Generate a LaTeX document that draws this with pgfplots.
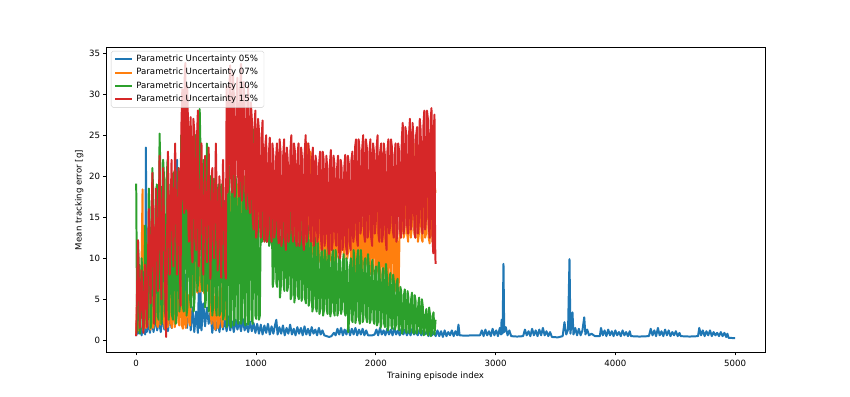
\documentclass[border=0pt]{standalone}
\usepackage{fontspec}
\setmainfont{DejaVu Sans}
\usepackage{pgfplots}
\pgfplotsset{compat=1.18}
\definecolor{tabblue}{HTML}{1F77B4}
\definecolor{taborange}{HTML}{FF7F0E}
\definecolor{tabgreen}{HTML}{2CA02C}
\definecolor{tabred}{HTML}{D62728}
\begin{document}
\begin{tikzpicture}
\path[use as bounding box] (-123.25pt,-50.53pt) rectangle (862.75pt,408.87pt);
\begin{axis}[
  at={(0,0)}, anchor=south west,
  scale only axis, width=764.15pt, height=353.74pt,
  xmin=-250, xmax=5249, ymin=-1.49, ymax=35.69,
  xtick={0,1000,2000,3000,4000,5000},
  ytick={0,5,10,15,20,25,30,35},
  tick align=outside, tick pos=left,
  major tick length=3.5pt,
  tick style={black, line width=0.8pt},
  axis line style={black, line width=0.8pt},
  /pgf/number format/assume math mode=true,
  /pgf/number format/1000 sep={},
  ticklabel style={font=\fontsize{10}{12}\selectfont},
  xticklabel style={yshift=-1.5pt},
  xlabel={Training episode index},
  ylabel={Mean tracking error [g]},
  label style={font=\fontsize{10}{12}\selectfont},
  legend cell align=left,
  legend style={at={(0,1)}, anchor=north west, xshift=5.5pt, yshift=-4pt,
    draw=black!20, rounded corners=2pt, fill=white,
    fill opacity=0.8, draw opacity=1, text opacity=1,
    font=\fontsize{10}{12}\selectfont,
    inner xsep=3.5pt, inner ysep=1.8pt, row sep=0pt,
    nodes={inner xsep=3.5pt, inner ysep=2.8pt, text height=7.6pt, text depth=2.2pt}},
  legend image code/.code={\draw[#1, line width=2.2pt, line cap=butt, sharp corners] (0pt,0pt) -- (20pt,0pt);},
  every axis plot/.append style={line width=2.3pt, line join=round},
]
% Parametric Uncertainty 05%
\addplot[tabblue] coordinates {
(0,0.5)(8,2.5)(15,0.8)(30,2.0)(45,0.6)(60,1.8)(75,0.7)(81,23.5)(88,1.0)(100,2.2)
(115,0.9)(130,2.5)(145,1.0)(160,2.8)(175,1.2)(190,2.4)(205,1.0)(220,3.0)(235,1.3)(250,2.6)
(265,1.1)(280,3.2)(295,1.5)(310,4.0)(325,2.0)(342,22.0)(350,3.0)(365,12.0)(375,5.0)(385,17.6)
(395,3.0)(410,8.0)(425,1.5)(440,5.0)(455,1.2)(470,4.0)(485,1.0)(500,3.5)(515,0.9)(522,6.1)
(530,1.5)(535,7.0)(545,1.2)(560,4.5)(575,1.7)(590,4.0)(605,2.0)(620,3.5)(635,0.9)(650,2.8)
(665,1.2)(680,2.5)(695,1.0)(710,2.8)(725,1.3)(740,2.6)(755,1.1)(770,2.9)(785,1.2)(800,2.3)
(815,1.0)(830,2.5)(845,1.3)(860,2.2)(875,1.1)(890,2.6)(905,1.2)(920,2.0)(935,1.0)(950,2.3)
(965,1.1)(980,2.1)(995,0.9)(1010,2.0)(1025,0.8)(1040,1.9)(1055,0.7)(1070,1.8)(1085,0.9)(1100,2.0)
(1115,0.7)(1130,1.7)(1145,0.8)(1160,1.9)(1170,2.5)(1180,0.7)(1195,1.6)(1210,0.8)(1225,1.8)(1240,0.6)
(1255,1.5)(1270,0.8)(1285,1.9)(1300,0.7)(1315,1.4)(1330,0.6)(1345,1.6)(1360,0.8)(1375,1.5)(1390,0.6)
(1405,1.7)(1420,0.7)(1435,1.4)(1450,0.6)(1465,1.6)(1480,0.8)(1495,1.3)(1510,0.6)(1525,1.5)(1540,0.7)
(1555,1.2)(1570,0.6)(1590,0.5)(1610,0.4)(1630,0.5)(1650,0.9)(1665,0.6)(1680,1.4)(1695,0.7)(1710,1.5)
(1725,0.6)(1740,1.3)(1755,0.7)(1770,1.6)(1785,0.6)(1800,1.4)(1815,0.7)(1830,1.5)(1845,0.6)(1860,1.3)
(1875,0.7)(1890,1.4)(1905,0.6)(1920,1.2)(1935,0.6)(1950,0.6)(1970,0.6)(1990,0.7)(2005,1.3)(2020,0.6)
(2035,1.5)(2050,0.7)(2065,1.2)(2080,0.6)(2095,1.4)(2110,0.7)(2125,1.3)(2140,0.6)(2155,1.5)(2170,0.7)
(2185,1.2)(2200,0.6)(2215,1.4)(2230,0.7)(2245,1.3)(2260,0.6)(2275,1.2)(2290,0.6)(2305,1.4)(2320,0.7)
(2335,1.1)(2350,0.6)(2365,1.3)(2380,0.6)(2395,1.2)(2410,0.7)(2425,1.1)(2440,0.5)(2455,1.3)(2470,0.6)
(2485,1.0)(2500,0.5)(2515,1.2)(2530,0.5)(2545,1.1)(2560,0.4)(2575,1.2)(2590,0.5)(2605,1.0)(2620,0.6)
(2635,1.2)(2650,0.5)(2665,1.1)(2680,0.6)(2690,1.9)(2700,0.6)(2750,0.55)(2800,0.6)(2870,0.6)(2885,1.2)
(2900,0.5)(2915,1.3)(2930,0.6)(2945,1.1)(2960,0.5)(2975,1.4)(2990,0.6)(3005,1.2)(3020,0.5)(3035,1.5)
(3045,0.7)(3050,2.5)(3058,0.8)(3066,9.3)(3072,1.0)(3085,1.6)(3100,0.6)(3115,1.2)(3130,0.5)(3180,0.45)
(3230,0.5)(3245,1.3)(3260,0.6)(3275,1.1)(3290,0.5)(3305,1.4)(3320,0.6)(3335,1.2)(3350,0.5)(3365,1.3)
(3380,0.6)(3395,1.5)(3410,0.6)(3425,1.1)(3440,0.5)(3455,1.0)(3470,0.4)(3520,0.35)(3560,0.5)(3575,2.2)
(3590,0.7)(3605,1.3)(3617,9.9)(3625,0.8)(3642,3.4)(3650,0.7)(3665,1.5)(3680,0.6)(3695,1.4)(3710,0.6)
(3725,1.2)(3740,2.8)(3750,0.7)(3765,1.3)(3780,0.6)(3800,0.8)(3830,0.5)(3870,0.5)(3880,1.5)(3895,0.6)
(3910,1.2)(3925,0.5)(3940,1.3)(3955,0.6)(3970,1.1)(3985,0.5)(4000,1.2)(4015,0.6)(4030,1.0)(4045,0.5)
(4060,1.2)(4075,0.6)(4090,1.0)(4105,0.5)(4120,1.1)(4130,0.5)(4200,0.45)(4280,0.5)(4295,1.4)(4310,0.6)
(4325,1.2)(4340,0.5)(4355,1.5)(4370,0.6)(4385,1.1)(4400,0.5)(4415,1.3)(4430,0.6)(4445,1.2)(4460,0.5)
(4475,1.0)(4490,0.6)(4505,1.1)(4520,0.5)(4535,0.9)(4545,0.5)(4620,0.45)(4690,0.5)(4700,1.5)(4715,0.6)
(4730,1.2)(4745,0.5)(4760,1.1)(4775,0.6)(4790,1.2)(4805,0.5)(4820,1.0)(4835,0.6)(4850,0.9)(4865,0.5)
(4880,1.0)(4895,0.5)(4910,0.9)(4925,0.4)(4935,0.8)(4945,0.3)(4999,0.25)
};
\addlegendentry{Parametric Uncertainty 05\%}
% Parametric Uncertainty 07%
\addplot[taborange] coordinates {
(0,0.8)(7,4.5)(15,6.0)(22,1.2)(30,1.5)(37,7.5)(45,9.4)(53,18.4)(60,1.2)(67,5.0)(75,7.0)(82,1.5)(90,1.8)(97,9.0)
(105,12.0)(112,1.8)(120,1.3)(127,7.0)(135,9.0)(142,1.5)(150,2.2)(157,10.0)(165,14.0)(172,2.0)(180,1.6)(187,8.5)
(195,10.0)(202,1.9)(210,2.5)(217,9.0)(225,13.0)(232,2.2)(240,1.4)(247,6.5)(255,8.0)(262,1.6)(270,2.0)(277,9.5)
(285,12.0)(292,2.0)(300,1.5)(307,7.0)(315,9.5)(322,1.6)(330,2.4)(337,8.0)(345,11.0)(352,2.2)(360,1.8)(367,6.0)
(375,7.5)(382,1.8)(390,1.4)(397,5.0)(405,6.0)(412,1.5)(420,2.0)(427,4.5)(435,5.5)(442,2.2)(450,1.8)(457,8.0)
(465,11.0)(472,5.5)(480,6.0)(487,10.0)(495,12.5)(502,6.5)(510,5.8)(517,11.5)(525,10.8)(532,5.9)(540,6.2)(547,10.0)
(555,11.5)(562,6.0)(570,5.7)(577,9.0)(585,10.0)(592,6.5)(600,6.0)(607,8.5)(615,9.7)(622,3.0)(630,2.0)(637,6.0)
(645,7.3)(652,1.8)(660,1.3)(667,5.5)(675,6.5)(682,1.5)(690,2.0)(697,6.0)(705,7.0)(712,2.2)(720,1.6)(727,5.0)
(735,6.0)(742,2.5)(750,3.0)(757,12.0)(765,14.0)(772,9.0)(780,8.0)(787,16.0)(795,18.0)(802,10.0)(810,9.0)(817,18.0)
(825,20.0)(832,11.0)(840,10.0)(847,19.0)(855,17.0)(862,12.0)(870,11.0)(877,19.0)(885,21.0)(892,13.0)(900,12.0)(907,20.0)
(915,19.0)(922,12.0)(930,13.0)(937,20.0)(945,22.0)(952,13.0)(960,14.0)(967,21.0)(975,20.0)(982,14.0)(990,13.0)(997,19.0)
(1005,20.0)(1012,13.0)(1020,14.0)(1027,18.0)(1035,19.0)(1042,14.0)(1050,13.0)(1057,19.0)(1065,20.0)(1072,13.5)(1080,14.0)(1087,18.5)
(1095,19.0)(1102,13.0)(1110,13.5)(1117,19.0)(1125,18.0)(1132,13.0)(1140,14.0)(1147,18.0)(1155,19.0)(1162,14.0)(1170,13.0)(1177,19.5)
(1185,18.0)(1192,13.5)(1200,14.5)(1207,18.0)(1215,19.0)(1222,12.5)(1230,13.0)(1237,19.0)(1245,18.5)(1252,13.0)(1260,12.5)(1267,18.0)
(1275,19.0)(1282,12.5)(1290,13.5)(1297,19.0)(1305,18.0)(1312,12.5)(1320,12.0)(1327,18.0)(1335,19.5)(1342,11.5)(1350,12.5)(1357,19.0)
(1365,18.0)(1372,11.5)(1380,11.0)(1387,18.0)(1395,19.0)(1402,10.5)(1410,10.0)(1417,20.0)(1425,24.0)(1432,10.5)(1440,9.5)(1447,21.0)
(1455,23.0)(1462,10.0)(1470,11.0)(1477,18.0)(1485,19.0)(1492,10.0)(1500,9.0)(1507,17.0)(1515,18.0)(1522,9.5)(1530,10.0)(1537,18.0)
(1545,17.0)(1552,10.0)(1560,9.5)(1567,17.0)(1575,18.0)(1582,9.0)(1590,8.5)(1597,17.0)(1605,18.0)(1612,9.5)(1620,10.0)(1627,18.0)
(1635,17.0)(1642,9.5)(1650,9.0)(1657,17.0)(1665,18.0)(1672,10.0)(1680,10.5)(1687,18.0)(1695,17.0)(1702,10.0)(1710,11.0)(1717,18.0)
(1725,17.0)(1732,10.5)(1740,10.0)(1747,17.0)(1755,18.0)(1762,10.0)(1770,11.0)(1777,18.0)(1785,17.0)(1792,9.5)(1800,9.0)(1807,17.0)
(1815,18.0)(1822,8.5)(1830,8.0)(1837,17.0)(1845,16.0)(1852,8.5)(1860,9.0)(1867,16.0)(1875,17.0)(1882,8.0)(1890,7.7)(1897,16.0)
(1905,17.0)(1912,9.0)(1920,9.5)(1927,17.0)(1935,18.0)(1942,8.5)(1950,8.0)(1957,17.0)(1965,16.5)(1972,8.0)(1980,9.0)(1987,16.0)
(1995,17.0)(2002,8.0)(2010,8.5)(2017,16.0)(2025,17.0)(2032,7.5)(2040,7.0)(2047,16.0)(2055,16.0)(2062,7.5)(2070,8.5)(2077,16.5)
(2085,17.0)(2092,7.0)(2100,6.5)(2107,15.0)(2115,16.0)(2122,7.0)(2130,8.0)(2137,15.5)(2145,16.0)(2152,6.5)(2160,6.0)(2167,15.0)
(2175,15.0)(2182,5.5)(2190,5.4)(2200,14.5)(2210,12.5)(2217,18.0)(2225,19.0)(2232,12.5)(2240,13.0)(2247,20.0)(2255,22.0)(2262,13.0)
(2270,12.0)(2277,19.0)(2285,18.0)(2292,12.5)(2300,13.5)(2307,21.0)(2315,24.0)(2322,13.0)(2330,12.5)(2337,18.0)(2345,19.0)(2352,12.0)
(2360,13.0)(2367,20.0)(2375,21.0)(2382,12.5)(2390,12.0)(2397,20.0)(2405,19.0)(2412,12.5)(2420,13.0)(2427,22.0)(2435,26.0)(2442,12.5)
(2450,11.8)(2457,20.0)(2465,19.0)(2472,12.0)(2480,12.5)(2490,19.0)(2499,18.0)
};
\addlegendentry{Parametric Uncertainty 07\%}
% Parametric Uncertainty 10%
\addplot[tabgreen] coordinates {
(0,19.1)(8,1.0)(15,12.0)(22,9.0)(30,0.8)(37,1.5)(45,10.0)(52,8.0)(60,1.5)(67,2.0)(75,14.0)(82,11.0)(90,2.0)(97,2.5)
(105,18.5)(112,16.0)(120,1.5)(127,2.2)(135,21.0)(142,18.0)(150,2.5)(157,2.0)(165,16.0)(172,19.0)(180,3.0)(187,2.5)
(195,25.2)(202,21.0)(210,2.0)(217,3.0)(225,22.0)(232,20.0)(240,3.5)(247,2.8)(255,20.0)(262,22.0)(270,2.5)(277,3.5)
(285,19.0)(292,17.0)(300,3.0)(307,2.5)(315,20.5)(322,18.0)(330,2.0)(337,3.0)(345,18.0)(352,21.0)(360,3.5)(367,4.5)
(375,25.0)(382,22.0)(390,4.0)(397,3.5)(405,23.0)(412,25.5)(420,3.0)(427,4.0)(435,26.0)(442,23.0)(450,5.0)(457,4.0)
(465,22.0)(472,24.0)(480,3.5)(487,5.0)(495,25.0)(502,22.0)(510,6.0)(520,7.5)(530,28.2)(537,23.0)(545,7.0)(552,6.0)
(560,22.0)(567,20.0)(575,4.0)(582,5.0)(590,24.0)(597,21.0)(605,3.5)(612,4.5)(620,20.0)(627,18.0)(635,3.0)(642,4.0)
(650,19.7)(657,17.5)(665,4.0)(672,3.0)(680,18.0)(687,19.0)(695,3.0)(702,3.5)(710,19.0)(717,17.0)(725,2.5)(732,3.0)
(740,17.0)(747,15.0)(755,1.6)(762,2.2)(770,22.0)(777,20.0)(785,2.0)(792,1.6)(800,19.0)(807,21.0)(815,1.8)(822,2.4)
(830,20.0)(837,18.0)(845,2.5)(852,2.0)(860,21.0)(867,19.0)(875,2.0)(882,2.6)(890,18.0)(897,20.0)(905,2.2)(912,1.8)
(920,20.5)(927,19.0)(935,1.9)(942,2.5)(950,24.0)(957,21.0)(965,2.5)(972,2.0)(980,25.7)(987,20.0)(995,3.0)(1002,2.6)
(1010,16.0)(1017,14.0)(1025,2.5)(1032,3.0)(1040,15.0)(1045,16.0)(1050,12.0)(1057,12.5)(1065,19.0)(1072,17.0)(1080,12.5)(1087,12.0)
(1095,17.0)(1102,18.0)(1110,11.5)(1117,12.0)(1125,18.0)(1132,15.0)(1140,6.5)(1147,7.5)(1155,16.0)(1162,17.0)(1170,7.0)(1177,6.5)
(1185,17.0)(1192,15.0)(1200,5.2)(1207,6.5)(1215,15.0)(1222,16.5)(1230,6.8)(1237,6.0)(1245,18.0)(1252,15.5)(1260,6.0)(1267,6.5)
(1275,15.0)(1282,16.0)(1290,5.0)(1297,5.5)(1305,16.0)(1312,14.0)(1320,4.6)(1327,5.5)(1335,15.5)(1342,14.5)(1350,5.5)(1357,5.0)
(1365,14.0)(1372,15.5)(1380,4.8)(1387,5.2)(1395,15.0)(1402,13.5)(1410,5.0)(1417,4.5)(1425,13.0)(1432,14.0)(1440,4.2)(1447,4.8)
(1455,12.3)(1462,11.5)(1470,3.5)(1477,4.0)(1485,11.5)(1492,12.5)(1500,4.0)(1507,3.5)(1515,12.0)(1522,10.5)(1530,3.2)(1537,3.8)
(1545,10.5)(1552,11.5)(1560,3.0)(1567,3.6)(1575,11.0)(1582,10.0)(1590,3.8)(1597,3.2)(1605,12.0)(1612,10.5)(1620,2.9)(1627,3.5)
(1635,10.0)(1642,11.0)(1650,3.5)(1657,3.0)(1665,11.0)(1672,9.5)(1680,3.0)(1687,3.6)(1695,10.3)(1702,9.5)(1710,3.2)(1717,3.8)
(1725,9.5)(1732,10.5)(1740,3.5)(1747,3.0)(1755,10.0)(1762,9.0)(1770,1.0)(1777,2.5)(1785,9.0)(1792,10.0)(1800,2.5)(1807,2.2)
(1815,11.0)(1822,9.5)(1830,2.1)(1837,2.8)(1845,10.0)(1852,11.0)(1860,2.5)(1867,2.0)(1875,11.0)(1882,9.5)(1890,2.2)(1897,2.6)
(1905,9.5)(1912,10.0)(1920,2.8)(1927,2.2)(1935,10.5)(1942,9.0)(1950,2.1)(1957,2.5)(1965,9.0)(1972,9.8)(1980,2.5)(1987,2.0)
(1995,8.5)(2002,9.0)(2010,1.8)(2017,2.2)(2025,9.5)(2032,8.5)(2040,1.5)(2047,2.0)(2055,8.0)(2062,8.8)(2070,2.0)(2077,1.6)
(2085,9.3)(2092,8.0)(2100,1.2)(2107,1.8)(2115,7.5)(2122,8.2)(2130,1.8)(2137,1.4)(2145,8.0)(2152,7.0)(2160,1.3)(2167,1.8)
(2175,7.0)(2182,7.5)(2190,1.5)(2197,1.2)(2205,6.5)(2212,6.0)(2220,0.8)(2227,1.3)(2235,5.5)(2242,6.2)(2250,1.2)(2257,0.9)
(2265,6.0)(2272,5.2)(2280,0.9)(2287,1.2)(2295,5.0)(2302,5.8)(2310,1.0)(2317,0.8)(2325,5.5)(2332,4.8)(2340,0.8)(2347,1.1)
(2355,4.5)(2362,5.2)(2370,1.1)(2377,0.8)(2385,5.0)(2392,4.2)(2400,0.6)(2407,0.9)(2415,3.2)(2422,3.8)(2430,0.8)(2437,0.6)
(2445,4.0)(2452,3.2)(2460,0.5)(2467,0.8)(2475,3.0)(2482,3.4)(2490,0.7)(2499,2.5)
};
\addlegendentry{Parametric Uncertainty 10\%}
% Parametric Uncertainty 15%
\addplot[tabred] coordinates {
(0,0.5)(15,12.2)(30,1.5)(45,8.5)(60,0.9)(75,9.2)(90,1.6)(105,16.0)(120,4.5)(135,20.4)
(150,2.0)(165,18.5)(180,6.0)(195,22.5)(210,5.0)(225,21.0)(240,7.5)(250,0.4)(265,23.0)(280,8.0)
(295,22.0)(310,9.0)(325,24.0)(340,8.0)(355,21.0)(370,4.2)
(377,26.0)(385,30.6)(392,18.0)(400,15.5)(405,32.0)(410,33.8)(415,16.0)(420,17.0)(425,31.0)(430,29.0)(435,14.0)(440,12.0)
(447,25.0)(455,27.2)(462,11.0)(470,9.5)(477,27.0)(485,25.5)(492,12.5)(500,11.0)(507,24.5)(515,28.0)(522,9.0)(530,10.5)
(545,24.0)(560,8.0)(575,22.5)(590,9.5)(605,23.5)(620,7.5)(635,21.0)(650,10.0)(665,24.0)(680,8.5)
(695,20.0)(710,7.6)(725,22.0)(740,9.0)(748,7.5)(755,31.0)(762,18.0)(770,19.0)(777,30.5)(785,33.5)(792,20.0)(800,18.0)
(807,32.5)(815,30.0)(822,17.5)(830,20.5)(837,29.5)(845,32.0)(852,19.5)(860,17.5)(867,30.0)(875,33.7)(882,17.0)(890,19.0)
(897,31.5)(905,29.0)(912,18.0)(920,16.0)(927,28.5)(935,31.0)(942,17.0)(950,15.5)(957,29.0)(965,27.0)(972,15.0)(980,13.5)
(987,26.0)(995,28.0)(1002,12.5)(1010,14.0)(1017,27.0)(1025,25.5)(1032,14.5)(1040,12.5)(1047,24.5)(1055,26.8)(1062,13.5)(1070,12.0)
(1077,23.5)(1085,25.0)(1092,12.0)(1100,13.0)(1107,22.5)(1115,24.7)(1122,13.5)(1130,12.0)(1137,24.0)(1145,22.5)(1152,12.5)(1160,13.5)
(1167,22.0)(1175,24.0)(1182,13.0)(1190,11.8)(1197,24.5)(1205,23.0)(1212,11.5)(1220,12.5)(1227,22.5)(1235,24.5)(1242,12.5)(1250,11.0)
(1257,23.5)(1265,22.0)(1272,12.0)(1280,13.0)(1287,23.0)(1295,25.0)(1302,13.5)(1310,12.0)(1317,24.0)(1325,23.0)(1332,12.5)(1340,11.5)
(1347,22.5)(1355,24.0)(1362,11.5)(1370,12.8)(1377,23.5)(1385,22.0)(1392,12.0)(1400,11.0)(1407,23.0)(1415,25.0)(1422,12.0)(1430,13.0)
(1437,24.0)(1445,22.5)(1452,13.5)(1460,12.0)(1467,22.0)(1475,23.5)(1482,11.5)(1490,12.5)(1497,22.5)(1505,21.5)(1512,12.0)(1520,13.0)
(1527,21.5)(1535,23.0)(1542,12.5)(1550,11.0)(1557,23.0)(1565,22.0)(1572,11.5)(1580,12.5)(1587,22.5)(1595,21.0)(1602,11.5)(1610,10.5)
(1617,21.5)(1625,23.2)(1632,11.0)(1640,12.0)(1647,22.5)(1655,21.5)(1662,12.5)(1670,11.5)(1677,21.0)(1685,22.5)(1692,11.0)(1700,10.0)
(1707,22.0)(1715,21.0)(1722,11.0)(1730,12.0)(1737,21.0)(1745,22.6)(1752,11.5)(1760,10.5)(1767,22.5)(1775,21.5)(1782,12.0)(1790,11.0)
(1797,22.0)(1805,23.0)(1812,12.0)(1820,13.0)(1827,23.5)(1835,24.5)(1842,12.5)(1850,11.5)(1857,24.5)(1865,23.0)(1872,13.0)(1880,14.0)
(1887,23.5)(1895,25.0)(1902,13.0)(1910,12.0)(1917,24.5)(1925,23.5)(1932,12.5)(1940,13.5)(1947,23.0)(1955,24.5)(1962,12.5)(1970,11.5)
(1977,24.0)(1985,23.0)(1992,13.0)(2000,14.5)(2007,23.5)(2015,25.0)(2022,13.0)(2030,12.0)(2037,23.0)(2045,24.0)(2052,12.0)(2060,13.0)
(2067,24.0)(2075,22.7)(2082,12.5)(2090,11.0)(2097,23.0)(2105,24.5)(2112,13.0)(2120,14.0)(2127,24.5)(2135,23.5)(2142,13.5)(2150,12.5)
(2157,22.5)(2165,24.0)(2172,12.0)(2180,13.0)(2187,24.0)(2195,23.0)(2202,13.5)(2210,12.5)(2217,24.5)(2225,26.5)(2232,13.0)(2240,14.0)
(2247,26.0)(2255,25.0)(2262,14.0)(2270,13.0)(2277,25.0)(2285,27.0)(2292,13.5)(2300,15.0)(2307,26.5)(2315,24.5)(2322,13.5)(2330,12.5)
(2337,25.0)(2345,26.0)(2352,13.0)(2360,14.5)(2367,27.0)(2375,25.5)(2382,14.0)(2390,13.0)(2397,26.0)(2405,28.0)(2412,13.5)(2420,15.0)
(2427,28.0)(2435,27.0)(2442,14.0)(2450,12.5)(2457,26.5)(2465,28.3)(2472,13.0)(2480,10.6)(2485,26.0)(2490,27.5)(2495,12.0)(2499,9.3)
};
\addlegendentry{Parametric Uncertainty 15\%}
\end{axis}
\end{tikzpicture}
\end{document}
